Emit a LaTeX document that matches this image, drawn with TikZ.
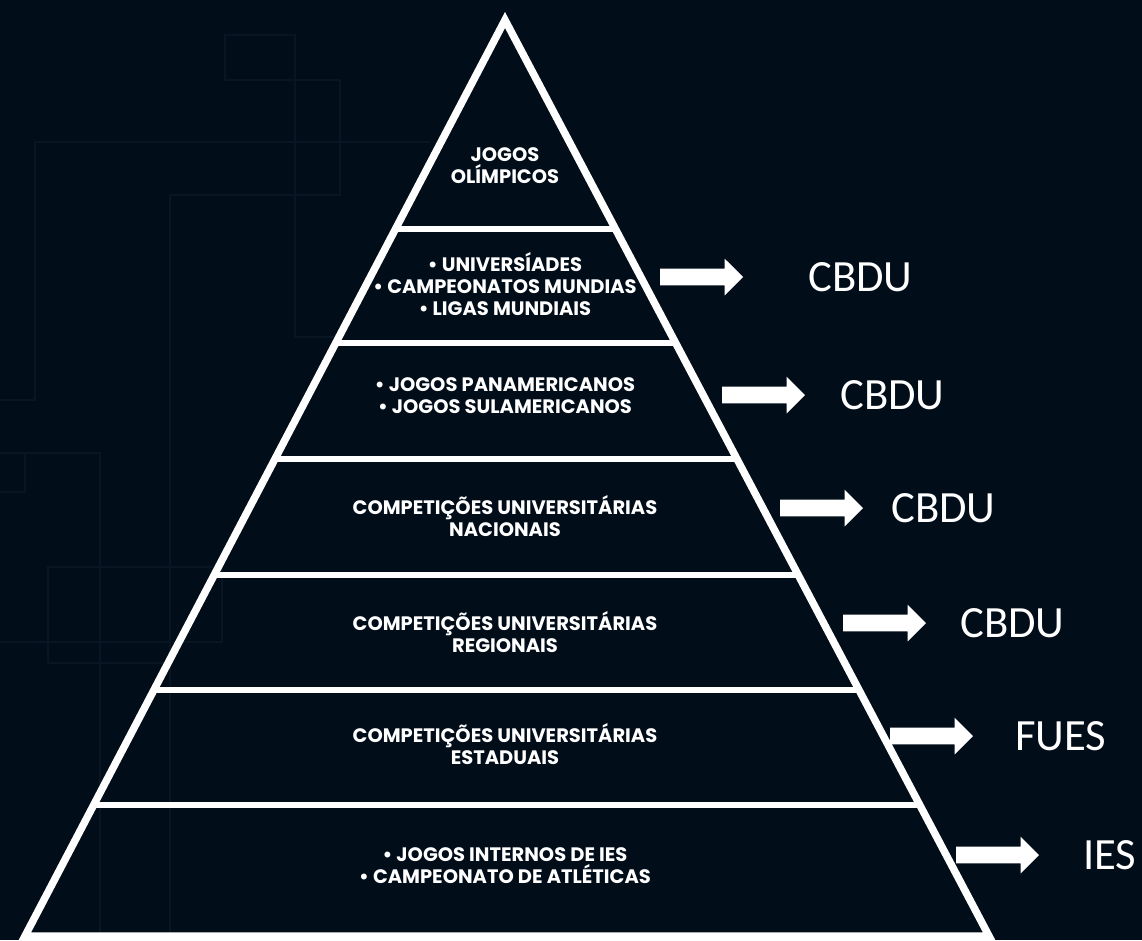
\documentclass[tikz,border=0pt]{standalone}
\usepackage{fontspec}
\usetikzlibrary{calc,shapes.arrows}
\newfontfamily\pyrfont{Poppins}
\newfontfamily\labfont{Carlito}
\definecolor{bg}{HTML}{020D1A}
\definecolor{gridc}{HTML}{081522}
\begin{document}
\begin{tikzpicture}[x=0.75pt,y=-0.75pt,
  tiertext/.style={text=white,font=\pyrfont\bfseries\fontsize{14.6}{16.6}\selectfont,align=center,inner sep=0pt},
  lab/.style={text=white,font=\labfont\fontsize{33.5}{40}\selectfont,anchor=west,inner sep=0pt},
  outline/.style={draw=white,line width=5.6pt,line join=miter},
  sep/.style={draw=white,line width=5.2pt},
  arrowbox/.style={single arrow,fill=white,draw=none,anchor=tail,inner xsep=0pt,inner ysep=6pt,
    minimum height=62.25pt,single arrow head extend=7.5pt,single arrow tip angle=90,outer sep=0pt},
  faint/.style={draw=gridc,line width=0.9pt}]
\fill[bg] (0,0) rectangle (1142,940);
\useasboundingbox (0,0) rectangle (1142,940);
% faint background grid
\draw[faint] (225,35) rectangle (295,80);
\draw[faint] (295,80) -- (340,80) -- (340,195) -- (170,195) -- (170,940);
\draw[faint] (295,80) -- (295,337) -- (340,337);
\draw[faint] (430,142) -- (35,142) -- (35,400) -- (0,400);
\draw[faint] (0,453) -- (100,453) -- (100,940);
\draw[faint] (25,453) -- (25,492) -- (0,492);
\draw[faint] (48,663) -- (48,567) -- (222,567) -- (222,642) -- (0,642);
\draw[faint] (48,663) -- (170,663);
% pyramid
\coordinate (apex) at (505,20);
\coordinate (bl) at (25,936);
\coordinate (br) at (989,936);
\draw[outline] (apex) -- (bl) -- (br) -- cycle;
\foreach \yy in {229,343,459,575,690,805}{
  \draw[sep] ($(apex)!{(\yy-20)/916}!(bl)$) -- ($(apex)!{(\yy-20)/916}!(br)$);
}
% tier texts
\node[tiertext] (t1) at (505,166) {JOGOS\\OLÍMPICOS};
\node[tiertext] (t2) at (505,284) {• UNIVERSÍADES\\• CAMPEONATOS MUNDIAS\\• LIGAS MUNDIAIS};
\node[tiertext] (t3) at (505,396) {• JOGOS PANAMERICANOS\\• JOGOS SULAMERICANOS};
\node[tiertext] (t4) at (505,516) {COMPETIÇÕES UNIVERSITÁRIAS\\NACIONAIS};
\node[tiertext] (t5) at (505,632) {COMPETIÇÕES UNIVERSITÁRIAS\\REGIONAIS};
\node[tiertext] (t6) at (505,744) {COMPETIÇÕES UNIVERSITÁRIAS\\ESTADUAIS};
\node[tiertext] (t7) at (505,866) {• JOGOS INTERNOS DE IES\\• CAMPEONATO DE ATLÉTICAS};
% arrows
\node[arrowbox] (a1) at (660,277) {};
\node[arrowbox] (a2) at (722,395) {};
\node[arrowbox] (a3) at (780,508) {};
\node[arrowbox] (a4) at (843,623) {};
\node[arrowbox] (a5) at (890,736) {};
\node[arrowbox] (a6) at (956,855) {};
% labels
\node[lab] (l1) at (808,277) {CBDU};
\node[lab] (l2) at (840,395) {CBDU};
\node[lab] (l3) at (891,508) {CBDU};
\node[lab] (l4) at (960,623) {CBDU};
\node[lab] (l5) at (1015,736) {FUES};
\node[lab] (l6) at (1083,855) {IES};
\end{tikzpicture}
\end{document}
